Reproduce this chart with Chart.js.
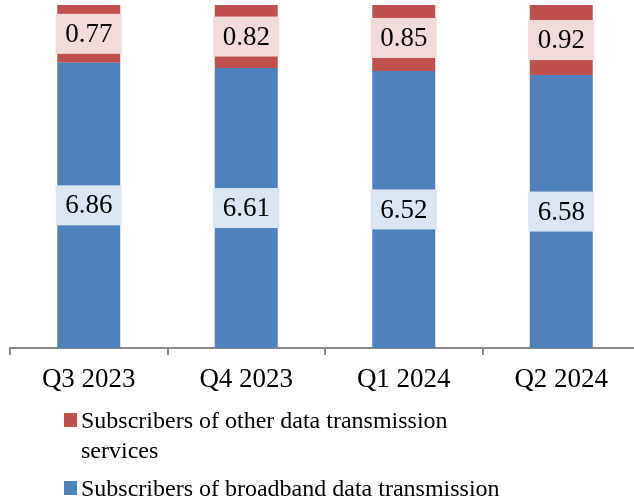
<!DOCTYPE html>
<html>
<head>
<meta charset="utf-8">
<script src="https://cdn.jsdelivr.net/npm/chart.js@4.4.1/dist/chart.umd.min.js"></script>
<style>
html,body{margin:0;padding:0;background:#fff;overflow:hidden;width:634px;height:503px;}
#wrap{position:absolute;left:0;top:0;width:640px;height:503px;}
</style>
</head>
<body>
<div id="wrap"><canvas id="c"></canvas></div>
<script>
const categories = ['Q3 2023', 'Q4 2023', 'Q1 2024', 'Q2 2024'];
const broadband = [6.86, 6.61, 6.52, 6.58];
const other = [0.77, 0.82, 0.85, 0.92];
const seriesNames = ['Subscribers of broadband data transmission', 'Subscribers of other data transmission services'];

const totals = broadband.map((v, i) => v + other[i]);
const broadbandPct = broadband.map((v, i) => v / totals[i] * 100);
const otherPct = other.map((v, i) => v / totals[i] * 100);

const FONT = '"Liberation Serif", "Times New Roman", serif';

const labelPlugin = {
  id: 'boxLabels',
  afterDatasetsDraw(chart) {
    const ctx = chart.ctx;
    const area = chart.chartArea;
    const raw = [broadband, other];
    const bgs = ['#dce6f2', '#f2dcdb'];
    ctx.save();
    ctx.font = '27px ' + FONT;
    ctx.textAlign = 'center';
    ctx.textBaseline = 'middle';
    chart.data.datasets.forEach((ds, di) => {
      const meta = chart.getDatasetMeta(di);
      meta.data.forEach((bar, i) => {
        const p = bar.getProps(['x', 'y', 'base'], true);
        const top = Math.max(Math.min(p.y, p.base), area.top);
        const bot = Math.min(Math.max(p.y, p.base), area.bottom);
        const cy = (top + bot) / 2;
        const txt = raw[di][i].toFixed(2);
        const w = ctx.measureText(txt).width + 19;
        const h = 40;
        ctx.fillStyle = bgs[di];
        ctx.fillRect(p.x - w / 2, cy - h / 2, w, h);
        ctx.fillStyle = '#000';
        ctx.fillText(txt, p.x, cy + 1);
      });
    });
    ctx.restore();
  }
};

const legendPlugin = {
  id: 'wrapLegend',
  afterDraw(chart) {
    const ctx = chart.ctx;
    ctx.save();
    ctx.font = '24px ' + FONT;
    ctx.textAlign = 'left';
    ctx.textBaseline = 'alphabetic';
    const items = [
      { color: '#c0504d', lines: ['Subscribers of other data transmission', 'services'], base: 428 },
      { color: '#4f81bd', lines: ['Subscribers of broadband data transmission'], base: 496 }
    ];
    items.forEach(it => {
      ctx.fillStyle = it.color;
      ctx.fillRect(64, it.base - 15, 13, 14);
      ctx.fillStyle = '#000';
      it.lines.forEach((ln, k) => ctx.fillText(ln, 81, it.base + k * 30));
    });
    ctx.restore();
  }
};

new Chart(document.getElementById('c'), {
  type: 'bar',
  data: {
    labels: categories,
    datasets: [
      { label: seriesNames[0], data: broadbandPct, backgroundColor: '#4f81bd', categoryPercentage: 1, barPercentage: 0.4 },
      { label: seriesNames[1], data: otherPct, backgroundColor: '#c0504d', categoryPercentage: 1, barPercentage: 0.4 }
    ]
  },
  options: {
    responsive: true,
    maintainAspectRatio: false,
    animation: false,
    layout: { padding: { left: 10, top: 5, right: 0, bottom: 0 } },
    plugins: { legend: { display: false }, tooltip: { enabled: false } },
    scales: {
      x: {
        stacked: true,
        offset: true,
        afterFit(s) { s.height = 155; },
        border: { display: true, color: '#888888', width: 2 },
        grid: { offset: true, drawOnChartArea: false, drawTicks: true, tickLength: 7, color: '#888888', lineWidth: 2 },
        ticks: { color: '#000', font: { family: FONT, size: 27 }, padding: 9, maxRotation: 0 }
      },
      y: {
        stacked: true,
        display: false,
        min: 40,
        max: 100
      }
    }
  },
  plugins: [labelPlugin, legendPlugin]
});
</script>
</body>
</html>
